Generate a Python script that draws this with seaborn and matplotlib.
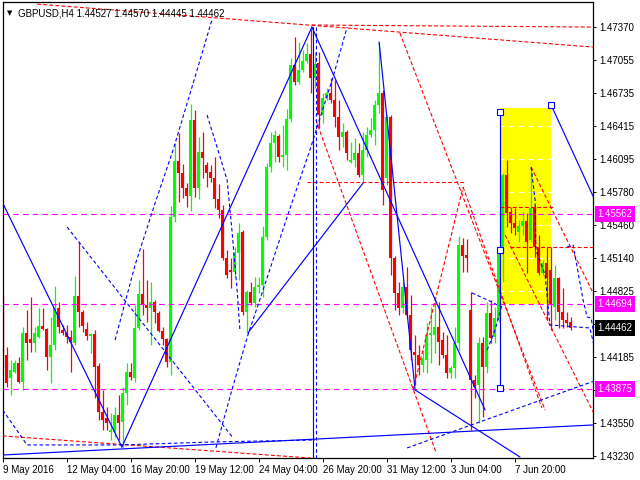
import numpy as np
import pandas as pd
import matplotlib
matplotlib.use("Agg")
import matplotlib.pyplot as plt
import matplotlib.transforms as mtransforms
from matplotlib.patches import Rectangle
import seaborn as sns

# ---------------- Candles: GBPUSD H4 ----------------
opens = [
    1.44321, 1.44205, 1.43983, 1.44041, 1.44128, 1.43945, 1.44418, 1.44360, 1.44321, 1.44379,
    1.44485, 1.44456, 1.44186, 1.44302, 1.44659, 1.44447, 1.44418, 1.44379, 1.44321, 1.44775,
    1.44620, 1.44456, 1.44389, 1.44408, 1.44099, 1.43655, 1.43597, 1.43462, 1.43462, 1.43626,
    1.43559, 1.43839, 1.44041, 1.43983, 1.44466, 1.44794, 1.44688, 1.44659, 1.44717, 1.44611,
    1.44437, 1.44360, 1.44138, 1.45537, 1.46077, 1.45962, 1.45817, 1.45740, 1.46473, 1.45817,
    1.46164, 1.46039, 1.45971, 1.45913, 1.45711, 1.45604, 1.45141, 1.45025, 1.45006, 1.45190,
    1.45392, 1.44620, 1.44813, 1.44707, 1.44861, 1.44881, 1.45344, 1.46019, 1.46251, 1.46319,
    1.46116, 1.46135, 1.46483, 1.47004, 1.46840, 1.46955, 1.47042, 1.47110, 1.46878, 1.47023,
    1.46521, 1.46685, 1.46734, 1.46666, 1.46502, 1.46309, 1.46357, 1.46068, 1.46087, 1.46155,
    1.45942, 1.46184, 1.46328, 1.46377, 1.46618, 1.46734, 1.45913, 1.46502, 1.45141, 1.44804,
    1.44659, 1.44861, 1.44591, 1.44234, 1.44205, 1.44109, 1.44157, 1.44398, 1.44398, 1.44475,
    1.44350, 1.44205, 1.44032, 1.44080, 1.44321, 1.45267, 1.45170, 1.44640, 1.43964, 1.43916,
    1.44321, 1.44089, 1.44611, 1.44379, 1.44543, 1.45218, 1.45942, 1.45585, 1.45479, 1.45392,
    1.45450, 1.45498, 1.45315, 1.45624, 1.45247, 1.44997, 1.45093, 1.45025, 1.44668, 1.44948,
    1.44620, 1.44543, 1.44527]
highs = [
    1.44784, 1.44282, 1.44157, 1.44157, 1.44186, 1.44475, 1.44640, 1.44765, 1.44475, 1.44659,
    1.44659, 1.44466, 1.44572, 1.44871, 1.44717, 1.44495, 1.44495, 1.44447, 1.44968, 1.45296,
    1.44640, 1.44524, 1.44418, 1.44447, 1.44128, 1.43868, 1.43703, 1.43646, 1.43703, 1.43819,
    1.43896, 1.44128, 1.44128, 1.44688, 1.44929, 1.45228, 1.44929, 1.44910, 1.44736, 1.44630,
    1.44475, 1.44369, 1.45643, 1.46251, 1.46348, 1.46048, 1.45865, 1.46627, 1.46570, 1.46309,
    1.46357, 1.46068, 1.46039, 1.46116, 1.45855, 1.45653, 1.45218, 1.45141, 1.45247, 1.45479,
    1.45412, 1.44833, 1.44910, 1.44958, 1.44958, 1.45450, 1.46058, 1.46357, 1.46377, 1.46338,
    1.46425, 1.46579, 1.47071, 1.47274, 1.47226, 1.47149, 1.47216, 1.47350, 1.47129, 1.47129,
    1.46734, 1.46782, 1.46878, 1.46859, 1.46666, 1.46444, 1.46377, 1.46261, 1.46299, 1.46251,
    1.46357, 1.46405, 1.46492, 1.46666, 1.47226, 1.46763, 1.46521, 1.46521, 1.45161, 1.44910,
    1.44929, 1.45054, 1.44784, 1.44398, 1.44302, 1.44253, 1.44514, 1.44668, 1.44736, 1.44717,
    1.44427, 1.44398, 1.44099, 1.44475, 1.45354, 1.45334, 1.45325, 1.44813, 1.44012, 1.44379,
    1.44379, 1.44717, 1.44736, 1.44668, 1.45238, 1.45962, 1.46087, 1.45633, 1.45624, 1.45508,
    1.45585, 1.45576, 1.46010, 1.45643, 1.45363, 1.45122, 1.45247, 1.45247, 1.45074, 1.44958,
    1.44852, 1.44620, 1.44570]
lows = [
    1.44089, 1.43896, 1.43819, 1.44032, 1.43935, 1.43868, 1.44157, 1.44234, 1.44234, 1.44369,
    1.44447, 1.44060, 1.43935, 1.44253, 1.44418, 1.44398, 1.44321, 1.44041, 1.44302, 1.44475,
    1.44427, 1.44350, 1.44225, 1.43790, 1.43578, 1.43482, 1.43482, 1.43385, 1.43414, 1.43385,
    1.43317, 1.43723, 1.43964, 1.43945, 1.44447, 1.44591, 1.44524, 1.44302, 1.44514, 1.44427,
    1.44302, 1.44089, 1.44012, 1.45489, 1.45682, 1.45720, 1.45633, 1.45595, 1.45730, 1.45711,
    1.45913, 1.45826, 1.45875, 1.45624, 1.45527, 1.45122, 1.44948, 1.44852, 1.44958, 1.44929,
    1.44591, 1.44427, 1.44688, 1.44668, 1.44804, 1.44765, 1.45315, 1.45971, 1.46068, 1.46068,
    1.46019, 1.45991, 1.46454, 1.46811, 1.46820, 1.46936, 1.47023, 1.46734, 1.46782, 1.46396,
    1.46444, 1.46666, 1.46637, 1.46405, 1.46184, 1.46212, 1.46087, 1.46058, 1.46019, 1.45923,
    1.45875, 1.46116, 1.46309, 1.46232, 1.46541, 1.45653, 1.45846, 1.44977, 1.44640, 1.44591,
    1.44611, 1.44562, 1.44157, 1.43916, 1.44012, 1.44041, 1.44032, 1.44128, 1.44225, 1.44109,
    1.44176, 1.43983, 1.43983, 1.43983, 1.44253, 1.45006, 1.45006, 1.43482, 1.43790, 1.43549,
    1.43607, 1.44032, 1.44321, 1.44321, 1.44524, 1.44910, 1.45440, 1.45383, 1.45363, 1.45296,
    1.45363, 1.44997, 1.45296, 1.45151, 1.44977, 1.44977, 1.44543, 1.44447, 1.44543, 1.44466,
    1.44466, 1.44475, 1.44445]
closes = [
    1.44196, 1.43935, 1.44060, 1.44128, 1.43945, 1.44418, 1.44321, 1.44321, 1.44418, 1.44485,
    1.44456, 1.44186, 1.44302, 1.44659, 1.44475, 1.44418, 1.44379, 1.44331, 1.44775, 1.44620,
    1.44485, 1.44389, 1.44408, 1.44089, 1.43655, 1.43578, 1.43549, 1.43482, 1.43626, 1.43549,
    1.43839, 1.44041, 1.43993, 1.44466, 1.44794, 1.44688, 1.44659, 1.44717, 1.44620, 1.44437,
    1.44360, 1.44138, 1.45537, 1.46077, 1.45962, 1.45817, 1.45740, 1.46473, 1.45817, 1.46164,
    1.46106, 1.45962, 1.45913, 1.45711, 1.45604, 1.45141, 1.44977, 1.45006, 1.45190, 1.45383,
    1.44620, 1.44813, 1.44707, 1.44861, 1.44881, 1.45344, 1.46019, 1.46251, 1.46328, 1.46116,
    1.46135, 1.46483, 1.47004, 1.46840, 1.46955, 1.47042, 1.47110, 1.46878, 1.47013, 1.46521,
    1.46685, 1.46734, 1.46666, 1.46502, 1.46309, 1.46357, 1.46155, 1.46087, 1.46155, 1.45942,
    1.46184, 1.46328, 1.46377, 1.46618, 1.46734, 1.45797, 1.46502, 1.45141, 1.44804, 1.44659,
    1.44861, 1.44591, 1.44253, 1.44205, 1.44109, 1.44176, 1.44398, 1.44418, 1.44475, 1.44331,
    1.44205, 1.44032, 1.44080, 1.44321, 1.45267, 1.45161, 1.45141, 1.43964, 1.43896, 1.44321,
    1.44089, 1.44611, 1.44369, 1.44562, 1.45218, 1.45942, 1.45576, 1.45479, 1.45431, 1.45450,
    1.45498, 1.45296, 1.45624, 1.45247, 1.44997, 1.45093, 1.44948, 1.44688, 1.44948, 1.44620,
    1.44543, 1.44514, 1.44462]

# ---------------- Axis labels ----------------
tick_bars = [0, 16, 32, 48, 64, 80, 96, 112, 128]
tick_dates = ["9 May 2016", "12 May 04:00", "16 May 20:00", "19 May 12:00", "24 May 04:00",
              "26 May 20:00", "31 May 12:00", "3 Jun 04:00", "7 Jun 20:00"]
price_ticks = [1.47370, 1.47055, 1.46735, 1.46415, 1.46095, 1.45780, 1.45460, 1.45140,
               1.44825, 1.44505, 1.44185, 1.43870, 1.43550, 1.43230]
hidden_ticks = [1.43870]   # sits under the 1.43875 level label
levels = [1.45562, 1.44694, 1.43875]
last_price = 1.44462
title = "GBPUSD,H4 1.44527 1.44570 1.44445 1.44462"

# ---------------- Drawn objects (bar index, price) ----------------
red_lines = [
    ([8.6, 147.6], [1.47592, 1.47177]),
    ([77.3, 147.6], [1.47390, 1.47370]),
    ([0.0, 80.0], [1.43424, 1.43202]),
    ([99.3, 135.6], [1.47313, 1.43674]),
    ([78.3, 108.3], [1.46473, 1.43269]),
    ([76.1, 115.6], [1.45875, 1.45875]),
    ([102.6, 115.1], [1.43868, 1.45826]),
    ([115.1, 134.8], [1.45826, 1.43694]),
    ([132.1, 148.1], [1.46019, 1.44765]),
    ([125.6, 147.6], [1.45363, 1.43655]),
    ([124.3, 138.1], [1.45633, 1.45633]),
    ([126.8, 147.6], [1.45247, 1.45247]),
]
blue_solid = [
    ([0.0, 29.8], [1.45672, 1.43317]),
    ([29.8, 77.3], [1.43317, 1.47370]),
    ([77.3, 120.6], [1.47370, 1.43674]),
    ([94.1, 103.1], [1.47226, 1.43868]),
    ([103.1, 129.3], [1.43868, 1.43221]),
    ([0.0, 147.6], [1.43240, 1.43530]),
    ([61.3, 90.1], [1.44418, 1.45865]),
    ([77.6, 77.6], [1.47370, 1.43211]),
    ([124.3, 124.3], [1.46550, 1.43887]),
    ([137.1, 148.6], [1.46618, 1.45653]),
]
blue_dashed = [
    ([28.1, 33.1, 38.1, 42.6, 48.6, 52.3],
     [1.44350, 1.45074, 1.45672, 1.46184, 1.46955, 1.47438]),
    ([51.1, 53.8, 56.1, 57.3, 58.6, 59.3],
     [1.46521, 1.46184, 1.45894, 1.45412, 1.44833, 1.44447]),
    ([53.3, 57.3, 61.3, 65.1, 71.1, 76.8, 82.6, 86.1],
     [1.43308, 1.43868, 1.44398, 1.44833, 1.45537, 1.46184, 1.46888, 1.47370]),
    ([16.1, 57.6], [1.45440, 1.43404]),
    ([0.0, 6.1, 29.3, 52.6, 78.1], [1.43674, 1.43337, 1.43337, 1.43366, 1.43385]),
    ([78.2, 78.2], [1.47370, 1.43211]),
    ([101.1, 148.6], [1.43308, 1.43964]),
    ([117.3, 122.3, 123.6], [1.44804, 1.44717, 1.44688]),
    ([121.1, 123.1, 124.8], [1.44253, 1.44447, 1.44688]),
    ([132.1, 133.1, 133.3, 135.6, 136.8, 146.8, 148.1],
     [1.46019, 1.45701, 1.45218, 1.44977, 1.44495, 1.44466, 1.44253]),
    ([141.1, 142.6, 145.1, 146.1, 147.1, 147.6],
     [1.45247, 1.45267, 1.44736, 1.44572, 1.44562, 1.44447]),
]
box_bars = [124.3, 137.1]
box_prices = [1.44694, 1.46589]
anchor_bars = [124.3, 124.3, 124.3, 137.1]
anchor_prices = [1.46550, 1.45218, 1.43887, 1.46618]

# ---------------- Style ----------------
sns.set_theme(style="white")
plt.rcParams["font.family"] = ["Liberation Sans", "DejaVu Sans"]
plt.rcParams["lines.scale_dashes"] = False

RED = "#FF0000"
GREEN = "#00FF00"
BLUE = "#0000FF"
MAGENTA = "#FF00FF"

df = pd.DataFrame({"open": opens, "high": highs, "low": lows, "close": closes})
df["bar"] = np.arange(len(df))
df["up"] = df["close"] >= df["open"]
df["color"] = np.where(df["up"], GREEN, RED)

fig = plt.figure(figsize=(6.4, 4.8), dpi=100)
ax = fig.add_axes([2.7 / 640, 22 / 480, 590.3 / 640, 456 / 480])
ax.set_facecolor("white")
ax.set_xlim(0, 147.575)
ax.set_ylim(1.43211, 1.47612)

# yellow box (background) and white grid visible on it
ax.add_patch(Rectangle((box_bars[0], box_prices[0]), box_bars[1] - box_bars[0],
                       box_prices[1] - box_prices[0], facecolor="#FFFF00",
                       edgecolor="none", zorder=0.5))
for p in price_ticks:
    ax.axhline(p, color="white", lw=0.8, ls=(0, (3.5, 3.5)), zorder=1)

# candles
ax.vlines(df["bar"], df["low"], df["high"], colors=df["color"], lw=0.9, zorder=2)
body_bottom = df[["open", "close"]].min(axis=1)
body_height = (df["close"] - df["open"]).abs().clip(lower=0.00002)
ax.bar(df["bar"], body_height, bottom=body_bottom, width=0.78, color=df["color"],
       linewidth=0, zorder=2.1)

# horizontal levels
for lv in levels:
    ax.axhline(lv, color=MAGENTA, lw=0.8, ls=(0, (4, 3)), zorder=3)

# trend objects
for xs, ys in red_lines:
    sns.lineplot(x=xs, y=ys, ax=ax, color=RED, lw=0.8, linestyle=(0, (2.8, 1.6)),
                 sort=False, estimator=None, zorder=3.5)
for xs, ys in blue_dashed:
    sns.lineplot(x=xs, y=ys, ax=ax, color=BLUE, lw=0.8, linestyle=(0, (2.6, 1.8)),
                 sort=False, estimator=None, zorder=3.6)
for xs, ys in blue_solid:
    sns.lineplot(x=xs, y=ys, ax=ax, color=BLUE, lw=0.85, sort=False, estimator=None,
                 zorder=3.7)
ax.plot(anchor_bars, anchor_prices, ls="none", marker="s", ms=4, mfc="white",
        mec=BLUE, mew=0.8, zorder=5)

# axes look
for sp in ax.spines.values():
    sp.set_color("black")
    sp.set_linewidth(0.9)
ax.yaxis.tick_right()
ax.set_yticks(price_ticks)
ax.set_yticklabels(["" if p in hidden_ticks else f"{p:.5f}" for p in price_ticks])
ax.set_xticks(tick_bars)
ax.set_xticklabels(tick_dates, ha="left")
ax.tick_params(axis="y", direction="out", length=2.5, width=0.7, pad=2,
               labelsize=7, colors="black", right=True, left=False)
ax.tick_params(axis="x", direction="out", length=3, width=0.7, pad=2,
               labelsize=7, colors="black", bottom=True)
ax.set_xlabel("")
ax.set_ylabel("")
ax.grid(False)

# price labels on the scale
trans = mtransforms.blended_transform_factory(ax.transAxes, ax.transData)
for lv in levels:
    ax.text(1.0075, lv, f"{lv:.5f}", transform=trans, ha="left", va="center",
            fontsize=7, color="white", clip_on=False, zorder=10,
            bbox=dict(boxstyle="square,pad=0.3", fc=MAGENTA, ec="none"))
ax.text(1.0075, last_price, f"{last_price:.5f}", transform=trans, ha="left",
        va="center", fontsize=7, color="white", clip_on=False, zorder=10,
        bbox=dict(boxstyle="square,pad=0.3", fc="black", ec="none"))

# chart caption
ax.text(0.008, 0.982, "\u25bc", transform=ax.transAxes, fontsize=5, color="black",
        va="top", ha="left", zorder=10, family=["DejaVu Sans"])
ax.text(0.026, 0.986, title, transform=ax.transAxes, fontsize=7, color="black",
        va="top", ha="left", zorder=10)

fig.savefig("out.png", dpi=100)
